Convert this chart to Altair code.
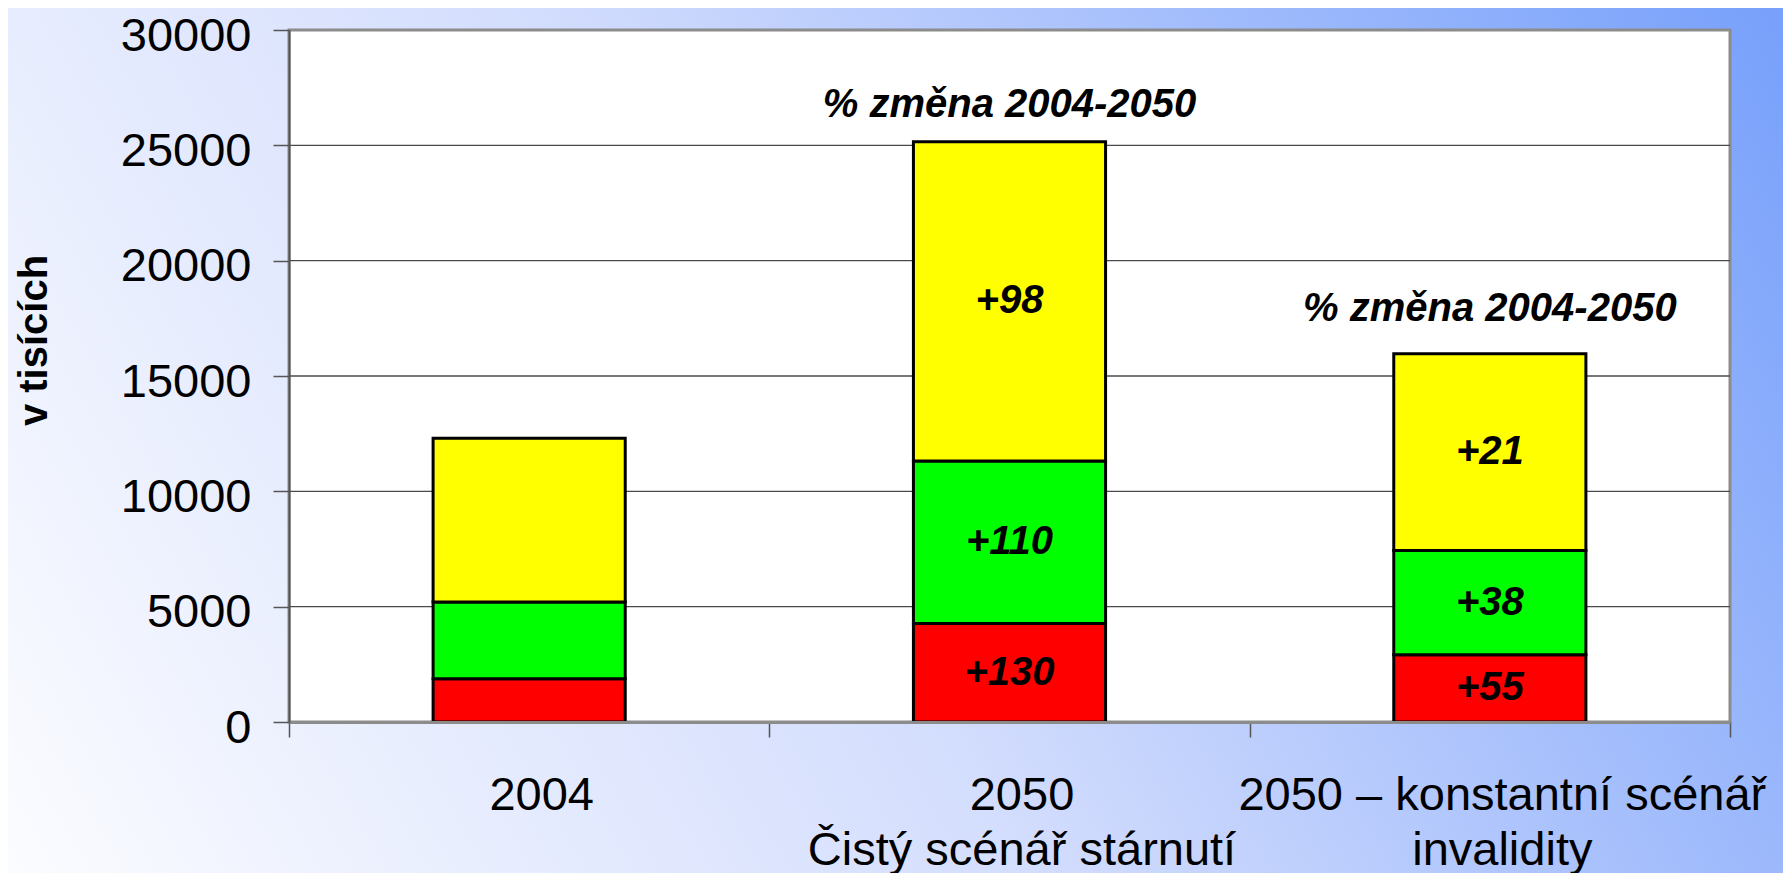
import altair as alt
import pandas as pd

# ---- data ----
categories = ["2004", "2050\nČistý scénář stárnutí", "2050 – konstantní scénář\ninvalidity"]
segments = ["skupina 1", "skupina 2", "skupina 3"]          # bottom -> top
seg_colors = ["#ff0000", "#00ff00", "#ffff00"]
red_vals = [1880, 4270, 2920]
green_vals = [3320, 7040, 4520]
yellow_vals = [7100, 13840, 8530]
red_lbl = ["", "+130", "+55"]
green_lbl = ["", "+110", "+38"]
yellow_lbl = ["", "+98", "+21"]
y_ticks = [0, 5000, 10000, 15000, 20000, 25000, 30000]
grid_vals = [5000, 10000, 15000, 20000, 25000]
annot_text = "% změna 2004-2050"
y_title = "v tisících"

rows = []
for i, c in enumerate(categories):
    for order, (seg, vals, lbls) in enumerate(zip(segments,
                                                  [red_vals, green_vals, yellow_vals],
                                                  [red_lbl, green_lbl, yellow_lbl])):
        rows.append({"category": c, "segment": seg, "value": vals[i],
                     "label": lbls[i], "order": order})
df = pd.DataFrame(rows)
grid_df = pd.DataFrame({"v": grid_vals})

W, H = 1441, 692
PAD = {"left": 281, "top": 22, "right": 53, "bottom": 151}
FONT = "Liberation Sans"

xscale = alt.Scale(paddingInner=0, paddingOuter=0)
yscale = alt.Scale(domain=[0, 30000], nice=False, zero=True)

# background gradient covering the whole chart
bg = alt.Chart(alt.Data(values=[{}])).mark_rect(
    fill=alt.Gradient(
        gradient="linear",
        stops=[alt.GradientStop(color="#fbfcff", offset=0),
               alt.GradientStop(color="#d3ddfd", offset=0.45),
               alt.GradientStop(color="#77a0fb", offset=1)],
        x1=0, y1=1, x2=1.19, y2=0.665),
    strokeWidth=0,
).encode(
    x=alt.value(-PAD["left"]), x2=alt.value(W + PAD["right"]),
    y=alt.value(-PAD["top"]), y2=alt.value(H + PAD["bottom"]),
)

# white plotting area with grey frame
plot_bg = alt.Chart(alt.Data(values=[{}])).mark_rect(
    fill="white", stroke="#8c8c8c", strokeWidth=3
).encode(x=alt.value(0), x2=alt.value(W), y=alt.value(0), y2=alt.value(H))

grid = alt.Chart(grid_df).mark_rule(color="#4a4a4a", strokeWidth=1.3).encode(
    x=alt.value(0), x2=alt.value(W),
    y=alt.Y("v:Q", scale=yscale),
)

x_axis = alt.Axis(
    title=None, labelAngle=0,
    labelExpr="isValid(datum.value) ? split(datum.value, '\\n') : ''",
    labelFont=FONT, labelFontSize=47, labelLineHeight=55, labelColor="black",
    labelPadding=35, labelBaseline="top", labelLimit=0, labelOverlap=False,
    labelOffset=12,
    tickBand="extent", tickSize=15, tickColor="#555555", tickWidth=1.5,
    domainColor="#8c8c8c", domainWidth=3, zindex=1,
)
y_axis = alt.Axis(
    values=y_ticks, grid=False, format="d",
    labelFont=FONT, labelFontSize=47, labelColor="black", labelPadding=22,
    labelOffset=6,
    tickSize=16, tickColor="#555555", tickWidth=1.5,
    domainColor="#555555", domainWidth=2,
    title=y_title, titleFont=FONT, titleFontSize=40, titleFontWeight="bold",
    titleColor="black", titleAngle=270, titleX=-243, titleY=310,
    titleAlign="center", titleBaseline="alphabetic", zindex=1,
)

bars = alt.Chart(df).mark_bar(
    stroke="black", strokeWidth=3, width=alt.RelativeBandSize(0.4)
).encode(
    x=alt.X("category:N", sort=categories, scale=xscale, axis=x_axis),
    y=alt.Y("value:Q", stack="zero", scale=yscale, axis=y_axis),
    color=alt.Color("segment:N", scale=alt.Scale(domain=segments, range=seg_colors),
                    legend=None),
    order=alt.Order("order:Q", sort="ascending"),
)

seg_text = alt.Chart(df).transform_stack(
    stack="value", groupby=["category"], as_=["y0", "y1"],
    sort=[alt.SortField("order", order="ascending")],
).transform_calculate(
    mid="(datum.y0 + datum.y1) / 2"
).mark_text(
    font=FONT, fontSize=40, fontWeight="bold", fontStyle="italic",
    color="black", baseline="middle", align="center",
).encode(
    x=alt.X("category:N", sort=categories, scale=xscale),
    y=alt.Y("mid:Q", scale=yscale),
    text="label:N",
)

def annot(cat, dy):
    return alt.Chart(df).transform_aggregate(
        total="sum(value)", groupby=["category"]
    ).transform_filter(
        alt.datum.category == cat
    ).mark_text(
        font=FONT, fontSize=40, fontWeight="bold", fontStyle="italic",
        color="black", baseline="middle", align="center", dy=dy,
    ).encode(
        x=alt.X("category:N", sort=categories, scale=xscale),
        y=alt.Y("total:Q", scale=yscale),
        text=alt.value(annot_text),
    )

chart = alt.layer(
    bg, plot_bg, grid, bars, seg_text, annot(categories[1], -37), annot(categories[2], -45)
).properties(
    width=W, height=H, padding=PAD,
    autosize=alt.AutoSizeParams(type="none"),
).configure(font=FONT).configure_view(stroke=None)

chart.save("out.html", embed_options={"renderer": "svg", "actions": False})
